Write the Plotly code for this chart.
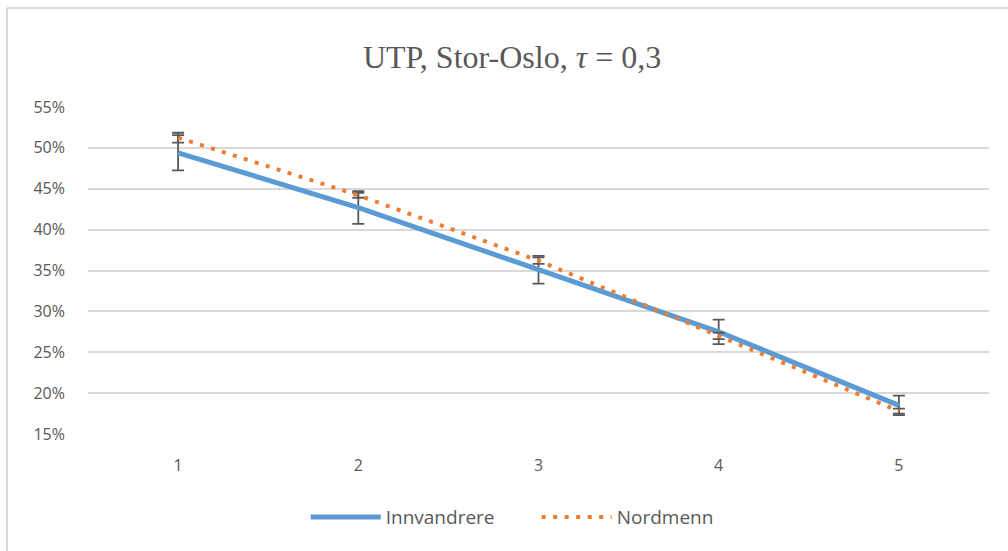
import plotly.graph_objects as go

# data (percent)
steps = [1, 2, 3, 4, 5]
innvandrere = [49.4, 42.7, 35.1, 27.5, 18.5]
innvandrere_err = [2.15, 2.0, 1.7, 1.5, 1.2]
nordmenn = [51.25, 44.2, 36.2, 27.0, 17.8]
nordmenn_err = [0.6, 0.3, 0.4, 0.4, 0.3]
y_ticks = [15, 20, 25, 30, 35, 40, 45, 50, 55]
y_labels = [f"{v}%" for v in y_ticks]

ERR_COLOR = "#595959"

fig = go.Figure()

fig.add_trace(
    go.Scatter(
        x=steps,
        y=innvandrere,
        mode="lines",
        name="Innvandrere",
        line=dict(color="#5B9BD5", width=5),
        error_y=dict(type="data", array=innvandrere_err, color=ERR_COLOR, thickness=1.8, width=6),
    )
)
fig.add_trace(
    go.Scatter(
        x=steps,
        y=nordmenn,
        mode="lines",
        name="Nordmenn",
        line=dict(color="#ED7D31", width=4, dash="4px,7.5px"),
        error_y=dict(type="data", array=nordmenn_err, color=ERR_COLOR, thickness=1.8, width=6),
    )
)

# thin grey frame round the chart area (top and left edges visible)
fig.add_shape(type="line", xref="paper", yref="paper", x0=-0.0899, x1=1.05, y0=1.3028, y1=1.3028,
              line=dict(color="#D9D9D9", width=2))
fig.add_shape(type="line", xref="paper", yref="paper", x0=-0.0899, x1=-0.0899, y0=1.3028, y1=-0.4,
              line=dict(color="#D9D9D9", width=2))

fig.update_layout(
    width=1008,
    height=551,
    paper_bgcolor="white",
    plot_bgcolor="white",
    margin=dict(l=88, r=19, t=107, b=117),
    title=dict(
        text="UTP, Stor-Oslo, <i>τ</i> = 0,3",
        x=0.508,
        xanchor="center",
        y=1 - 57 / 551,
        yanchor="middle",
        font=dict(family="Liberation Serif", size=32, color="#595959"),
    ),
    font=dict(family="Open Sans", color="#595959"),
    showlegend=True,
    legend=dict(
        orientation="h",
        x=0.498,
        xanchor="center",
        y=-0.254,
        yanchor="middle",
        itemwidth=70,
        entrywidth=146,
        font=dict(family="Open Sans", size=19, color="#595959"),
    ),
)
fig.update_xaxes(
    range=[0.5, 5.5],
    tickvals=steps,
    showgrid=False,
    zeroline=False,
    showline=False,
    ticklabelstandoff=20,
    tickfont=dict(size=16, color="#595959"),
)
fig.update_yaxes(
    range=[15, 55],
    tickvals=y_ticks,
    ticktext=y_labels,
    showgrid=True,
    gridcolor="#D9D9D9",
    gridwidth=1.5,
    zeroline=False,
    showline=False,
    ticklabelstandoff=22,
    tickfont=dict(size=16, color="#595959"),
)

fig.write_html(
    "out.html",
    config={"displayModeBar": False},
    post_script="document.body.style.margin='0';",
)
